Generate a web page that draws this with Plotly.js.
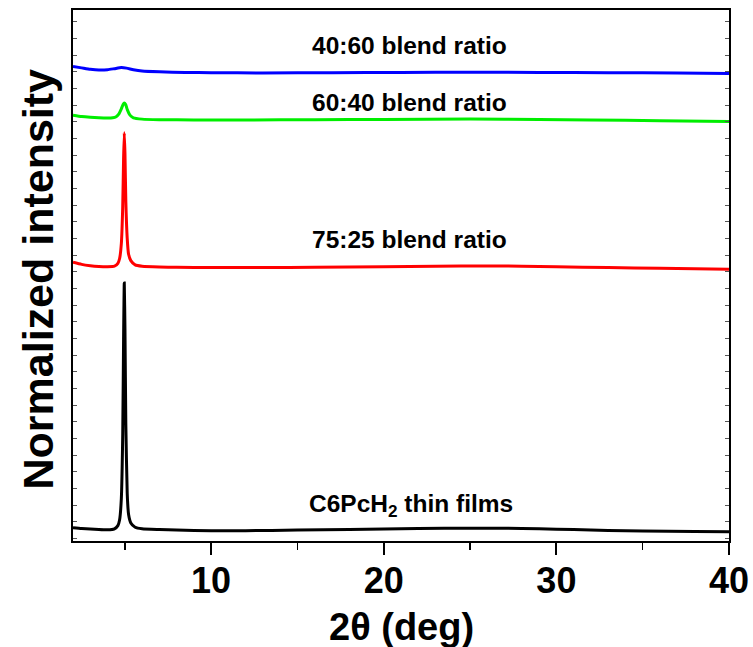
<!DOCTYPE html>
<html>
<head>
<meta charset="utf-8">
<script src="https://cdn.plot.ly/plotly-3.0.1.min.js"></script>
<style>html,body{margin:0;padding:0;background:#fff;}#chart{width:753px;height:647px;}</style>
</head>
<body>
<div id="chart"></div>
<script>
// C6PcH2 thin films (black)
const xFilm = [2.0, 2.5, 3.0, 3.5, 4.0, 4.4, 4.6, 4.7, 4.8, 4.88, 4.93, 4.97, 5.01, 5.06, 5.14, 5.22, 5.35, 5.6, 6.0, 7.0, 8.0, 10, 12, 15, 18, 20, 22, 25, 27, 29, 31, 33, 35, 38, 40];
const yFilm = [2.5, 2.35, 2.25, 2.15, 2.1, 2.3, 2.9, 4.0, 8.0, 20, 38, 48.6, 40, 22, 9, 5.0, 3.4, 2.6, 2.3, 2.15, 2.05, 1.95, 1.95, 2.05, 2.15, 2.25, 2.35, 2.4, 2.4, 2.3, 2.15, 2.0, 1.9, 1.8, 1.75];

// 75:25 blend ratio (red)
const x7525 = [2.0, 2.5, 3.0, 3.5, 4.0, 4.4, 4.6, 4.7, 4.8, 4.88, 4.93, 4.97, 5.01, 5.06, 5.14, 5.22, 5.35, 5.6, 6.0, 7.0, 8.0, 10, 13, 16, 20, 23, 26, 28, 30, 33, 36, 40];
const y7525 = [52.5, 52.1, 51.85, 51.7, 51.65, 51.75, 52.3, 53.2, 56, 63, 72, 76.9, 73, 64, 57, 54, 52.8, 52.0, 51.75, 51.6, 51.55, 51.5, 51.5, 51.55, 51.65, 51.75, 51.8, 51.75, 51.65, 51.5, 51.35, 51.2];

// 60:40 blend ratio (green)
const x6040 = [2.0, 2.5, 3.0, 3.5, 4.0, 4.3, 4.5, 4.65, 4.8, 4.9, 4.97, 5.05, 5.15, 5.3, 5.5, 6.0, 7.0, 9, 12, 16, 20, 25, 29, 32, 36, 40];
const y6040 = [80.2, 79.95, 79.8, 79.7, 79.65, 79.7, 79.9, 80.4, 81.4, 82.2, 82.5, 82.2, 81.2, 80.2, 79.7, 79.45, 79.35, 79.3, 79.3, 79.35, 79.4, 79.45, 79.4, 79.3, 79.15, 79.0];

// 40:60 blend ratio (blue)
const x4060 = [2.0, 2.5, 3.0, 3.5, 4.0, 4.4, 4.8, 5.1, 5.5, 6.0, 7.0, 8.5, 10, 13, 17, 21, 25, 29, 33, 37, 40];
const y4060 = [89.35, 89.1, 88.85, 88.7, 88.75, 88.95, 89.15, 89.05, 88.75, 88.5, 88.35, 88.25, 88.2, 88.15, 88.2, 88.25, 88.3, 88.25, 88.2, 88.15, 88.05];

const seriesNames = ["C6PcH2 thin films", "75:25 blend ratio", "60:40 blend ratio", "40:60 blend ratio"];
const labelTexts = ["C6PcH<sub>2</sub> thin films", "75:25 blend ratio", "60:40 blend ratio", "40:60 blend ratio"];
const labelY = [6.6, 56.7, 82.6, 93.4];
const labelX = [21.6, 21.5, 21.5, 21.5];
const xTickVals = [10, 20, 30, 40];
const xTickText = ["10", "20", "30", "40"];
const xTitle = "2θ (deg)";
const yTitle = "Normalized intensity";

const colors = ["#000000", "#ff0000", "#00ee00", "#0000ff"];
const xs = [xFilm, x7525, x6040, x4060];
const ys = [yFilm, y7525, y6040, y4060];

const font = "Arial, 'Liberation Sans', Helvetica, sans-serif";

const traces = xs.map((x, i) => ({
  x: x, y: ys[i], name: seriesNames[i], type: "scatter", mode: "lines",
  line: {color: colors[i], width: 3, shape: "spline", smoothing: 0.5},
  hoverinfo: "skip"
}));

const annotations = labelTexts.map((t, i) => ({
  x: labelX[i], y: labelY[i], xref: "x", yref: "y", text: t, showarrow: false,
  font: {family: font, size: 24.5, color: "#000", weight: "bold"},
  xanchor: "center", yanchor: "middle"
}));
annotations.push({
  x: 0.5, y: 0, xref: "paper", yref: "paper", text: xTitle, showarrow: false,
  xanchor: "center", yanchor: "middle", yshift: -86,
  font: {family: font, size: 38, color: "#000", weight: "bold"}
});
annotations.push({
  x: 0, y: 0.5, xref: "paper", yref: "paper", text: yTitle, showarrow: false,
  xanchor: "center", yanchor: "middle", xshift: -36, yshift: -4, textangle: -90,
  font: {family: font, size: 43, color: "#000", weight: "bold"}
});

const layout = {
  width: 753, height: 647,
  margin: {l: 73, r: 24, t: 10, b: 106},
  paper_bgcolor: "#fff", plot_bgcolor: "#fff",
  showlegend: false,
  font: {family: font, color: "#000"},
  xaxis: {
    range: [2, 40], tickvals: xTickVals, ticktext: xTickText,
    ticks: "outside", ticklen: 12, tickwidth: 2, tickcolor: "#000",
    ticklabelstandoff: -5,
    minor: {dtick: 5, tick0: 0, ticks: "outside", ticklen: 7, tickwidth: 1.5, tickcolor: "#000"},
    showline: true, linewidth: 2, linecolor: "#000", mirror: true,
    showgrid: false, zeroline: false,
    tickfont: {family: font, size: 36, color: "#000", weight: "bold"}
  },
  yaxis: {
    range: [0, 100], tick0: 0.46, dtick: 3.14,
    ticks: "inside", ticklen: 4, tickwidth: 1, tickcolor: "#555",
    showticklabels: false,
    showline: true, linewidth: 2, linecolor: "#000", mirror: "ticks",
    showgrid: false, zeroline: false
  },
  annotations: annotations
};

Plotly.newPlot("chart", traces, layout, {staticPlot: true, displayModeBar: false});
</script>
</body>
</html>
